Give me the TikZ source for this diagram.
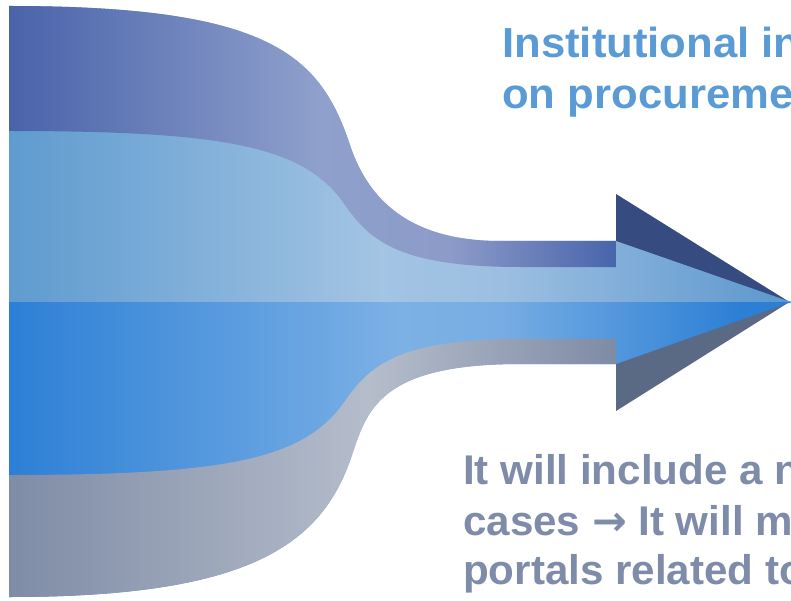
\documentclass[tikz,border=0pt]{standalone}
\usepackage{fontspec}
\setmainfont{Liberation Sans}
\newfontfamily\topfont[FakeStretch=1.04]{Liberation Sans}
\newfontfamily\botfont[FakeStretch=1.015]{Liberation Sans}
\newfontfamily\arrowfont{DejaVu Sans}
\definecolor{tbA}{HTML}{4963AA}
\definecolor{tbB}{HTML}{8FA0CC}
\definecolor{tbC}{HTML}{8C9BC9}
\definecolor{tbD}{HTML}{4864AA}
\definecolor{lbA}{HTML}{5E9BCF}
\definecolor{lbB}{HTML}{A3C4E3}
\definecolor{lbC}{HTML}{9CBFE1}
\definecolor{lbD}{HTML}{5B97CE}
\definecolor{bbA}{HTML}{2C7FD6}
\definecolor{bbB}{HTML}{7DB1E5}
\definecolor{bbC}{HTML}{77ADE3}
\definecolor{bbD}{HTML}{2C7FD5}
\definecolor{gbA}{HTML}{7F8CA6}
\definecolor{gbB}{HTML}{B5BDCB}
\definecolor{gbC}{HTML}{7E8BA5}
\definecolor{triTop}{HTML}{364B80}
\definecolor{triBot}{HTML}{5A6A85}
\definecolor{topText}{HTML}{5B9BD5}
\definecolor{botText}{HTML}{7E8CA9}
\begin{document}
\begin{tikzpicture}[x=1pt,y=-1pt,
  toptext/.style={text=topText,font=\topfont\fontsize{42}{50}\selectfont\bfseries,inner sep=0pt,anchor=base west},
  bottext/.style={text=botText,font=\botfont\fontsize{41.5}{50}\selectfont\bfseries,inner sep=0pt,anchor=base west}]
\useasboundingbox[fill=white] (0,0) rectangle (791,601);

% arrowhead side triangles
\fill[triTop] (616,194) -- (616,246) -- (791,303) -- cycle;
\fill[triBot] (616,358) -- (616,411) -- (791,301) -- cycle;

% light blue band (upper half of arrow)
\begin{scope}
\clip (9,6) .. controls (270,6) and (320,55) .. (350,145)
  .. controls (365,190) and (400,241) .. (500,241)
  -- (616,241) -- (791,302) -- (791,303) -- (9,303) -- cycle;
\shade[left color=lbA,right color=lbB] (8,0) rectangle (380.5,601);
\shade[left color=lbB,right color=lbC] (380,0) rectangle (500.5,601);
\shade[left color=lbC,right color=lbD] (500,0) rectangle (792,601);
\end{scope}

% blue band (lower half of arrow)
\begin{scope}
\clip (9,302) -- (791,302) -- (616,364) -- (520,364)
  .. controls (380,364) and (367,410) .. (352,455)
  .. controls (322,545) and (250,597) .. (9,597) -- cycle;
\shade[left color=bbA,right color=bbB] (8,0) rectangle (400.5,601);
\shade[left color=bbB,right color=bbC] (400,0) rectangle (500.5,601);
\shade[left color=bbC,right color=bbD] (500,0) rectangle (740.5,601);
\fill[bbD] (740,0) rectangle (792,601);
\end{scope}

% top band
\begin{scope}
\clip (9,6) .. controls (270,6) and (320,55) .. (350,145)
  .. controls (365,190) and (400,241) .. (500,241)
  -- (616,241) -- (616,267) -- (520,267)
  .. controls (400,267) and (370,241) .. (345,205)
  .. controls (305,147) and (230,131) .. (9,131) -- cycle;
\shade[left color=tbA,right color=tbB] (8,0) rectangle (320.5,601);
\shade[left color=tbB,right color=tbC] (320,0) rectangle (450.5,601);
\shade[left color=tbC,right color=tbD] (450,0) rectangle (617,601);
\end{scope}

% gray bottom band
\begin{scope}
\clip (9,475) .. controls (230,475) and (305,459) .. (345,401)
  .. controls (370,365) and (400,339) .. (520,339)
  -- (616,339) -- (616,364) -- (520,364)
  .. controls (380,364) and (367,410) .. (352,455)
  .. controls (322,545) and (250,597) .. (9,597) -- cycle;
\shade[left color=gbA,right color=gbB] (8,0) rectangle (370.5,601);
\shade[left color=gbB,right color=gbC] (370,0) rectangle (617,601);
\end{scope}

% texts
\node[toptext] (t1) at (502,58) {Institutional in};
\node[toptext] (t2) at (502,109) {on procurement};
\node[bottext] (b1) at (463,484) {It will include a n};
\node[bottext] (b2) at (463,535) {cases {\arrowfont →} It will m};
\node[bottext] (b3) at (463,584) {portals related to};
\end{tikzpicture}
\end{document}
